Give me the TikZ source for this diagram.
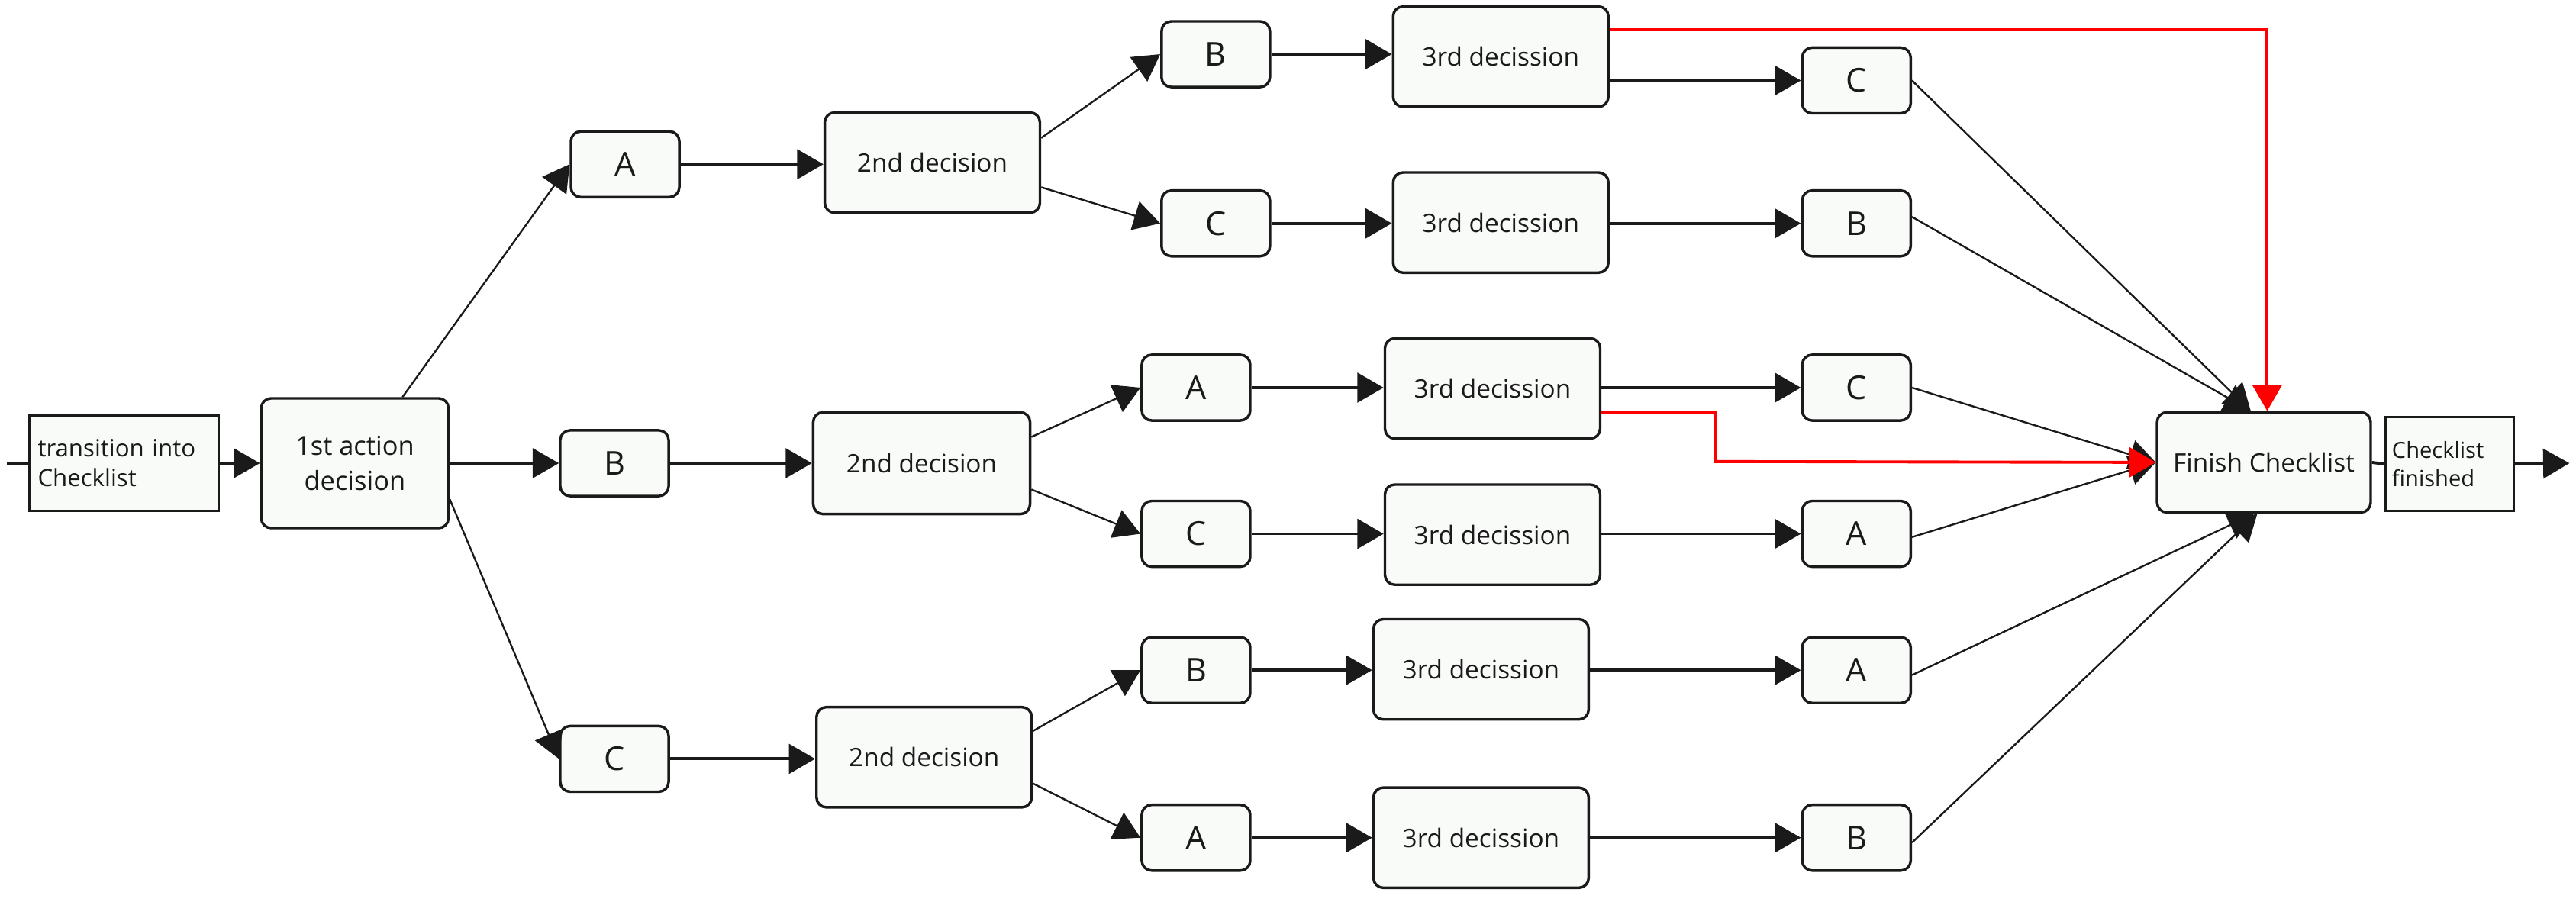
\documentclass[tikz,border=0pt]{standalone}
\usepackage{fontspec}
\setmainfont{Open Sans}
\usetikzlibrary{arrows.meta}
\definecolor{boxfill}{HTML}{F9FBF9}
\definecolor{ink}{HTML}{1A1A1A}
\begin{document}
\begin{tikzpicture}[x=1pt,y=-1pt,
  box/.style={draw=ink,line width=1.6pt,fill=boxfill,rounded corners=6pt,inner sep=0pt,align=center,text=ink},
  sq/.style={draw=ink,line width=1.6pt,fill=boxfill,inner sep=0pt,align=left,text=ink},
  big/.style={box,minimum width=131pt,minimum height=61pt,font=\fontsize{15.5}{19}\selectfont},
  let/.style={box,minimum width=66pt,minimum height=40pt,font=\fontsize{20}{22}\selectfont},
  tip/.style={-{Triangle[length=16pt,width=18pt]}},
  conn/.style={ink,line width=1.8pt},
  thin/.style={ink,line width=1.1pt},
  redl/.style={red,line width=1.8pt}]
\useasboundingbox (0,0) rectangle (1568,549);

% nodes
\node[sq,minimum width=115pt,minimum height=58pt,font=\fontsize{14.5}{18}\selectfont,text width=105pt] (trans) at (75.5,282) {transition into\\Checklist};
\node[box,minimum width=114pt,minimum height=79pt,font=\fontsize{16}{21}\selectfont] (first) at (216,282) {1st action\\decision};

\node[let] (a1) at (380.5,100) {A};
\node[let] (b1) at (374,282) {B};
\node[let] (c1) at (374,462) {C};

\node[big] (d2a) at (567.5,99) {2nd decision};
\node[big,minimum width=132pt,minimum height=62pt] (d2b) at (561,282) {2nd decision};
\node[big] (d2c) at (562.5,461) {2nd decision};

\node[let] (m1) at (740,33) {B};
\node[let] (m2) at (740,136) {C};
\node[let] (m3) at (728,236) {A};
\node[let] (m4) at (728,325) {C};
\node[let] (m5) at (728,408) {B};
\node[let] (m6) at (728,510) {A};

\node[big] (t1) at (913.5,34.5) {3rd decission};
\node[big] (t2) at (913.5,135.5) {3rd decission};
\node[big] (t3) at (908.5,236.5) {3rd decission};
\node[big] (t4) at (908.5,325.5) {3rd decission};
\node[big] (t5) at (901.5,407.5) {3rd decission};
\node[big] (t6) at (901.5,510) {3rd decission};

\node[let] (e1) at (1130,49) {C};
\node[let] (e2) at (1130,136) {B};
\node[let] (e3) at (1130,236) {C};
\node[let] (e4) at (1130,325) {A};
\node[let] (e5) at (1130,408) {A};
\node[let] (e6) at (1130,510) {B};

\node[big,minimum width=130pt] (fin) at (1378,281.5) {Finish Checklist};
\node[sq,minimum width=78pt,minimum height=57pt,font=\fontsize{13.5}{17}\selectfont,text width=70pt] (done) at (1491,282.5) {Checklist\\finished};

\coordinate (start) at (4,282);
\coordinate (out) at (1564,282);
\coordinate (r1) at (1380,18);
\coordinate (r2a) at (1044,251);
\coordinate (r2b) at (1044,281);

% connectors
\draw[conn] (start) -- (trans.west);
\draw[conn,tip] (trans.east) -- (first.west);
\draw[thin,tip] ([xshift=29pt]first.north) -- (a1.west);
\draw[conn,tip] (first.east) -- (b1.west);
\draw[thin,tip] ([yshift=-22pt]first.east) -- (c1.west);

\draw[conn,tip] (a1.east) -- (d2a.west |- a1.east);
\draw[conn,tip] (b1.east) -- (d2b.west |- b1.east);
\draw[conn,tip] (c1.east) -- (d2c.west |- c1.east);

\draw[thin,tip] ([yshift=15pt]d2a.east) -- (m1.west);
\draw[thin,tip] ([yshift=-15pt]d2a.east) -- (m2.west);
\draw[thin,tip] ([yshift=16pt]d2b.east) -- (m3.west);
\draw[thin,tip] ([yshift=-16pt]d2b.east) -- (m4.west);
\draw[thin,tip] ([yshift=16pt]d2c.east) -- (m5.west);
\draw[thin,tip] ([yshift=-16pt]d2c.east) -- (m6.west);

\draw[conn,tip] (m1.east) -- (t1.west |- m1.east);
\draw[conn,tip] (m2.east) -- (t2.west |- m2.east);
\draw[conn,tip] (m3.east) -- (t3.west |- m3.east);
\draw[conn,tip] (m4.east) -- (t4.west |- m4.east);
\draw[conn,tip] (m5.east) -- (t5.west |- m5.east);
\draw[conn,tip] (m6.east) -- (t6.west |- m6.east);

\draw[conn,tip] (t1.east |- e1.west) -- (e1.west);
\draw[conn,tip] (t2.east |- e2.west) -- (e2.west);
\draw[conn,tip] (t3.east |- e3.west) -- (e3.west);
\draw[conn,tip] (t4.east |- e4.west) -- (e4.west);
\draw[conn,tip] (t5.east |- e5.west) -- (e5.west);
\draw[conn,tip] (t6.east |- e6.west) -- (e6.west);

\draw[thin,tip] (e1.east) -- ([xshift=-8pt]fin.north);
\draw[thin,tip] ([yshift=4pt]e2.east) -- ([xshift=-8pt]fin.north);
\draw[thin,tip] (e3.east) -- (fin.west);
\draw[thin,tip] ([yshift=-2pt]e4.east) -- (fin.west);
\draw[thin,tip] ([yshift=-3pt]e5.east) -- ([xshift=-6pt]fin.south);
\draw[thin,tip] ([yshift=-3pt]e6.east) -- ([xshift=-4pt]fin.south);

\draw[redl,tip] (t1.east |- r1) -- (r1) -- (r1 |- fin.north);
\draw[redl,tip] (t3.east |- r2a) -- (r2a) -- (r2b) -- (fin.west);

\draw[conn] (fin.east) -- (done.west);
\draw[conn,tip] (done.east) -- (out);
\end{tikzpicture}
\end{document}
